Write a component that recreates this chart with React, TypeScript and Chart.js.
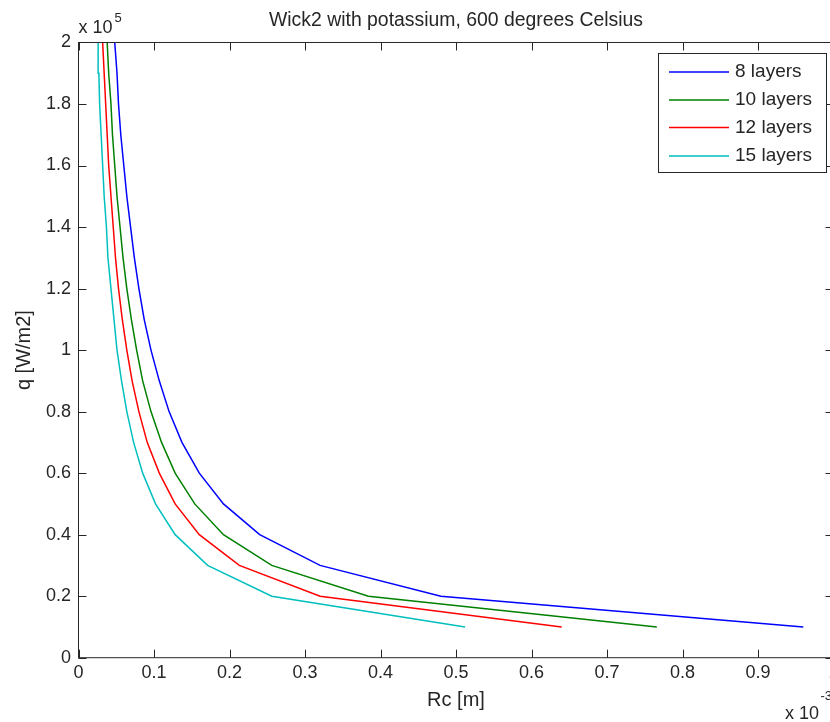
import React, { useEffect, useRef } from 'react';
import { Chart, registerables } from 'chart.js';

Chart.register(...registerables);

const TITLE = 'Wick2 with potassium, 600 degrees Celsius';
const X_LABEL = 'Rc [m]';
const Y_LABEL = 'q [W/m2]';
const X_EXPONENT = '-3';
const Y_EXPONENT = '5';

const SERIES_LABELS = ['8 layers', '10 layers', '12 layers', '15 layers'];
const SERIES_COLORS = ['#0000ff', '#008000', '#ff0000', '#00bfbf'];

// heat flux q, in units of 1e5 W/m2
const qValues = [0.1, 0.2, 0.3, 0.4, 0.5, 0.6, 0.7, 0.8, 0.9, 1.0, 1.1, 1.2, 1.3, 1.4, 1.5, 1.6, 1.7, 1.8, 1.9, 2.0];
// Rc in units of 1e-3 m
const rc8 = [0.960, 0.480, 0.320, 0.240, 0.192, 0.160, 0.137, 0.120, 0.107, 0.096, 0.087, 0.080, 0.074, 0.069, 0.064, 0.060, 0.056, 0.053, 0.051, 0.048];
const rc10 = [0.766, 0.384, 0.256, 0.192, 0.154, 0.128, 0.110, 0.096, 0.085, 0.077, 0.070, 0.064, 0.059, 0.055, 0.051, 0.048, 0.045, 0.043, 0.040, 0.038];
const rc12 = [0.640, 0.320, 0.213, 0.160, 0.128, 0.107, 0.091, 0.080, 0.071, 0.064, 0.058, 0.053, 0.049, 0.046, 0.043, 0.040, 0.038, 0.036, 0.034, 0.032];
const rc15 = [0.512, 0.256, 0.171, 0.128, 0.102, 0.085, 0.073, 0.064, 0.057, 0.051, 0.047, 0.043, 0.039, 0.037, 0.034, 0.032, 0.030, 0.028, 0.027, 0.026];
const SERIES_RC = [rc8, rc10, rc12, rc15];

const X_MIN = 0, X_MAX = 1, X_STEP = 0.1;
const Y_MIN = 0, Y_MAX = 2, Y_STEP = 0.2;

const FONT = '"Liberation Sans", Arial, Helvetica, sans-serif';
const INK = '#262626';

const fmt = (v: number) => String(Math.round(v * 10) / 10);

const matlabFrame = {
  id: 'matlabFrame',
  afterDraw(chart: any) {
    const { ctx, chartArea } = chart;
    const { left, right, top, bottom } = chartArea;
    const xs = chart.scales.x;
    const ys = chart.scales.y;
    const TL = 8;
    ctx.save();
    ctx.strokeStyle = INK;
    ctx.lineWidth = 1;
    ctx.strokeRect(left, top, right - left, bottom - top);
    ctx.beginPath();
    xs.ticks.forEach((t: any) => {
      const px = Math.round(xs.getPixelForValue(t.value)) + 0.5;
      ctx.moveTo(px, bottom); ctx.lineTo(px, bottom - TL);
      ctx.moveTo(px, top); ctx.lineTo(px, top + TL);
    });
    ys.ticks.forEach((t: any) => {
      const py = Math.round(ys.getPixelForValue(t.value)) + 0.5;
      ctx.moveTo(left, py); ctx.lineTo(left + TL, py);
      ctx.moveTo(right, py); ctx.lineTo(right - TL, py);
    });
    ctx.stroke();

    // exponent labels
    ctx.fillStyle = INK;
    ctx.textBaseline = 'alphabetic';
    ctx.textAlign = 'left';
    ctx.font = `18px ${FONT}`;
    ctx.fillText('x 10', left, top - 9.5);
    const w1 = ctx.measureText('x 10').width;
    ctx.font = `13px ${FONT}`;
    ctx.fillText(Y_EXPONENT, left + w1 + 2, top - 20.5);
    ctx.font = `18px ${FONT}`;
    ctx.fillText('x 10', 785, 719);
    const w2 = ctx.measureText('x 10').width;
    ctx.font = `13px ${FONT}`;
    ctx.fillText(X_EXPONENT, 785 + w2 + 1.5, 700);

    // legend box
    const lx = 658.5, ly = 53.5, lw = 168, lh = 119;
    ctx.fillStyle = '#ffffff';
    ctx.fillRect(lx, ly, lw, lh);
    ctx.strokeStyle = INK;
    ctx.strokeRect(lx, ly, lw, lh);
    const rows = [72, 100, 127.5, 156];
    chart.data.datasets.forEach((ds: any, i: number) => {
      const yy = rows[i];
      ctx.strokeStyle = ds.borderColor;
      ctx.lineWidth = 1.5;
      ctx.beginPath();
      ctx.moveTo(669, yy);
      ctx.lineTo(729, yy);
      ctx.stroke();
      ctx.fillStyle = INK;
      ctx.font = `19px ${FONT}`;
      ctx.textBaseline = 'middle';
      ctx.fillText(ds.label, 735, yy);
    });
    ctx.restore();
  },
};

export default function App() {
  const ref = useRef<HTMLCanvasElement | null>(null);
  useEffect(() => {
    if (!ref.current) return;
    const datasets = SERIES_LABELS.map((label, i) => ({
      label,
      data: qValues.map((q, j) => ({ x: SERIES_RC[i][j], y: q })),
      borderColor: SERIES_COLORS[i],
      backgroundColor: SERIES_COLORS[i],
      borderWidth: 1.5,
      pointRadius: 0,
      showLine: true,
      fill: false,
      tension: 0,
    }));
    const chart = new Chart(ref.current, {
      type: 'scatter',
      data: { datasets },
      plugins: [matlabFrame],
      options: {
        animation: false,
        responsive: false,
        devicePixelRatio: 1,
        layout: { padding: { left: 0, right: 16.5, top: 0, bottom: 0 } },
        plugins: {
          legend: { display: false },
          tooltip: { enabled: false },
          title: {
            display: true,
            text: TITLE,
            fullSize: false,
            color: INK,
            font: { family: FONT, size: 19.4, weight: 'normal' },
            padding: { top: 9.1, bottom: 10.1 },
          },
        },
        scales: {
          x: {
            type: 'linear',
            min: X_MIN,
            max: X_MAX,
            grid: { display: false, drawTicks: false },
            border: { display: false },
            ticks: {
              stepSize: X_STEP,
              color: INK,
              padding: 5,
              maxRotation: 0,
              font: { family: FONT, size: 18 },
              callback: (v: any) => fmt(Number(v)),
            },
            title: {
              display: true,
              text: X_LABEL,
              color: INK,
              font: { family: FONT, size: 20 },
              padding: { top: 0, bottom: 10 },
            },
            afterFit: (s: any) => { s.height = 64.3; },
          },
          y: {
            type: 'linear',
            min: Y_MIN,
            max: Y_MAX,
            grid: { display: false, drawTicks: false },
            border: { display: false },
            ticks: {
              stepSize: Y_STEP,
              color: INK,
              padding: 7.5,
              font: { family: FONT, size: 18 },
              callback: (v: any) => fmt(Number(v)),
            },
            title: {
              display: true,
              text: Y_LABEL,
              color: INK,
              font: { family: FONT, size: 20 },
              padding: { top: 12.5, bottom: 0 },
            },
            afterFit: (s: any) => { s.width = 78.5; },
          },
        },
      },
    });
    return () => chart.destroy();
  }, []);
  return (
    <div style={{ position: 'fixed', left: 0, top: 0, width: 830, height: 722, overflow: 'hidden', background: '#fff' }}>
      <canvas ref={ref} width={850} height={722} style={{ display: 'block', width: 850, height: 722 }} />
    </div>
  );
}
